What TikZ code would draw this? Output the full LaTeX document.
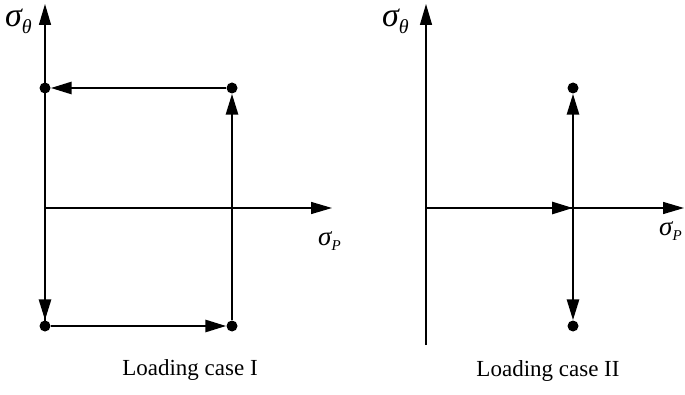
\documentclass[tikz,border=0pt]{standalone}
\usepackage{fontspec}
\setmainfont{Liberation Serif}
\usetikzlibrary{arrows.meta}
\begin{document}
\begin{tikzpicture}[x=1pt,y=-1pt,
 axis/.style={line width=1.4pt, -{Triangle[length=21pt,width=12pt]}},
 flow/.style={line width=2.8pt, -{Triangle[length=21pt,width=12pt]}},
 dot/.style={circle, fill=black, inner sep=0pt, minimum size=11pt},
 lbl/.style={font=\fontsize{23}{27}\selectfont, inner sep=0pt},
 sym/.style={font=\fontsize{34}{38}\selectfont\itshape, inner sep=0pt},
 symsm/.style={font=\fontsize{27}{30}\selectfont\itshape, inner sep=0pt}]
\useasboundingbox (0,0) rectangle (685,395);
\clip (0,0) rectangle (685,395);
% left diagram
\coordinate (LO) at (45,208);
\coordinate (LYt) at (45,4);
\coordinate (LXt) at (332,208);
\node[dot] (A) at (45,88) {};
\node[dot] (B) at (232,88) {};
\node[dot] (C) at (45,326) {};
\node[dot] (D) at (232,326) {};
\draw[axis] (C.center) -- (LYt);
\draw[axis] (LO) -- (LXt);
\draw[flow] (D) -- (B);
\draw[flow] (B) -- (A);
\draw[flow] (A) -- (C);
\draw[flow] (C) -- (D);
\node[sym, anchor=base west] (lt1) at (5,27) {σ\raisebox{-7pt}{\fontsize{20}{20}\selectfont θ}};
\node[symsm, anchor=base west] (lp1) at (318,246) {σ\raisebox{-5pt}{\fontsize{15}{15}\selectfont P}};
\node[lbl] (cap1) at (190,370) {Loading case I};
% right diagram
\coordinate (RB) at (426,345);
\coordinate (RYt) at (426,4);
\coordinate (RO) at (426,208);
\coordinate (RXt) at (684,208);
\node[dot] (E) at (573,88) {};
\node[dot] (F) at (573,326) {};
\coordinate (G) at (573,208);
\draw[axis] (RB) -- (RYt);
\draw[axis] (RO) -- (RXt);
\draw[flow] (RO) -- (G);
\draw[flow] (G) -- (E);
\draw[flow] (G) -- (F);
\node[sym, anchor=base west] (lt2) at (382,27) {σ\raisebox{-7pt}{\fontsize{20}{20}\selectfont θ}};
\node[symsm, anchor=base west] (lp2) at (659,236) {σ\raisebox{-5pt}{\fontsize{15}{15}\selectfont P}};
\node[lbl] (cap2) at (548,371) {Loading case II};
\end{tikzpicture}
\end{document}
